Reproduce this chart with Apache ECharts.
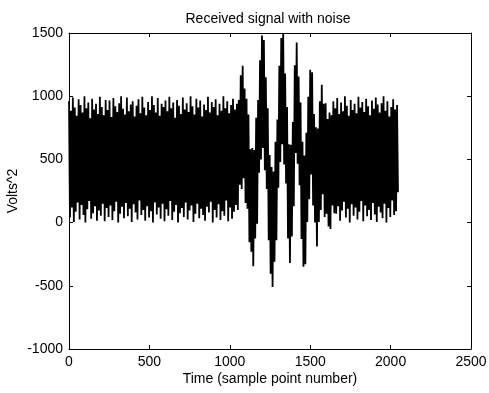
<!DOCTYPE html>
<html lang="en">
<head>
    <meta charset="UTF-8">
    <title>Received signal with noise</title>
    <script src="https://cdn.jsdelivr.net/npm/echarts@6/dist/echarts.min.js"></script>
    <style>
        html, body { margin: 0; padding: 0; background: #fff; }
    </style>
</head>
<body>
    <div id="pic1" style="width:489px;height:393px;"></div>
    <script>
        // one value every 6 sample points (about one per pixel column)
        var sampleStep = 6;

        // noise only, samples 0 .. 1038
        var noiseHead = [
            960, 40, 885, 120, 990, 5, 910, 85, 845, 160,
            975, 25, 930, 140, 870, 60, 1000, 0, 905, 105,
            950, 170, 825, 30, 980, 75, 895, 130, 940, 15,
            860, 95, 995, 55, 915, 150, 850, 10, 970, 115,
            890, 45, 965, 135, 835, 20, 985, 90, 920, 165,
            875, 0, 945, 70, 1000, 125, 900, 35, 855, 155,
            990, 50, 880, 110, 935, 5, 960, 145, 840, 80,
            925, 25, 975, 175, 865, 60, 995, 100, 910, 15,
            850, 130, 955, 40, 890, 90, 1000, 0, 930, 160,
            870, 65, 985, 120, 845, 30, 940, 150, 915, 10,
            965, 105, 880, 55, 995, 170, 905, 20, 950, 85,
            830, 140, 970, 0, 925, 75, 860, 115, 990, 45,
            895, 160, 945, 25, 875, 95, 1000, 135, 920, 5,
            855, 70, 980, 150, 910, 35, 965, 110, 840, 60,
            935, 15, 890, 125, 995, 80, 870, 165, 955, 0,
            915, 100, 975, 40, 850, 145, 940, 20, 885, 90,
            1000, 55, 905, 175, 960, 10, 865, 120, 930, 30,
            980, 85, 895, 140
        ];

        // echo burst, samples 1044 .. 1650
        var signalBurst = [
            940, 100, 970, 300, 1165, 265, 1240, 350, 1060, 155,
            980, 110, 855, -155, 580, -230, 590, -345, 575, -125,
            830, -10, 970, 395, 1285, 500, 1480, 590, 1445, 415,
            1150, 265, 905, -140, 535, -405, 440, -510, 405, -310,
            640, -140, 815, 275, 1240, 480, 1460, 620, 1500, 460,
            1180, 310, 915, -125, 620, -320, 615, -110, 795, 130,
            1245, 550, 1425, 465, 1155, 295, 950, -130, 640, -350,
            530, -330, 710, 5, 995, 185, 1210, 380, 1190, 135,
            860, 0, 755, -190, 745, 5, 960, 100, 1090, 225,
            940, 45, 945, 70, 820, -30, 870, -50, 850, 135,
            960, 75
        ];

        // noise only, samples 1656 .. 2046
        var noiseTail = [
            905, 70, 985, 130, 860, 15, 950, 95, 880, 165,
            1000, 40, 925, 110, 845, 0, 970, 145, 890, 55,
            940, 120, 865, 25, 995, 85, 910, 170, 955, 10,
            875, 135, 980, 50, 920, 100, 850, 20, 965, 155,
            900, 65, 990, 5, 935, 125, 870, 80, 945, 35,
            1000, 150, 885, 0, 960, 115, 840, 45, 915, 175,
            975, 60, 895, 90, 930, 240
        ];

        var xTicks = [0, 500, 1000, 1500, 2000, 2500];
        var yTicks = [-1000, -500, 0, 500, 1000, 1500];

        var volts = noiseHead.concat(signalBurst, noiseTail);
        var points = volts.map(function (v, i) { return [i * sampleStep, v]; });

        var fontName = 'Liberation Sans, Arial, sans-serif';
        var labelFont = { color: '#000', fontFamily: fontName, fontSize: 14 };

        function boxAxis(pos, ticks, withLabels) {
            return {
                type: 'value',
                position: pos,
                min: ticks[0],
                max: ticks[ticks.length - 1],
                interval: ticks[1] - ticks[0],
                axisLine: { show: true, onZero: false, lineStyle: { color: '#000', width: 1 } },
                axisTick: { show: true, inside: true, length: 4, lineStyle: { color: '#000' } },
                axisLabel: Object.assign({
                    show: withLabels,
                    margin: 6,
                    formatter: function (v) { return String(v); }
                }, labelFont),
                splitLine: { show: false }
            };
        }

        var myChart = echarts.init(document.getElementById('pic1'));

        var xMain = boxAxis('bottom', xTicks, true);
        xMain.name = 'Time (sample point number)';
        xMain.nameLocation = 'middle';
        xMain.nameGap = 23;
        xMain.nameMoveOverlap = false;
        xMain.nameTextStyle = labelFont;

        var yMain = boxAxis('left', yTicks, true);
        yMain.name = 'Volts^2';
        yMain.nameLocation = 'middle';
        yMain.nameGap = 49;
        yMain.nameMoveOverlap = false;
        yMain.nameTextStyle = labelFont;

        myChart.setOption({
            backgroundColor: '#fff',
            animation: false,
            title: {
                text: 'Received signal with noise',
                left: 263,
                textAlign: 'center',
                top: 7,
                textStyle: { color: '#000', fontWeight: 'normal', fontFamily: fontName, fontSize: 14 }
            },
            grid: { left: 69, right: 18, top: 33, bottom: 44, containLabel: false, outerBoundsMode: 'none' },
            xAxis: [xMain, boxAxis('top', xTicks, false)],
            yAxis: [yMain, boxAxis('right', yTicks, false)],
            series: [
                {
                    type: 'line',
                    data: points,
                    showSymbol: false,
                    symbol: 'none',
                    sampling: null,
                    lineStyle: { color: '#000', width: 1.8, join: 'bevel' },
                    itemStyle: { color: '#000' }
                }
            ]
        });
    </script>
</body>
</html>
